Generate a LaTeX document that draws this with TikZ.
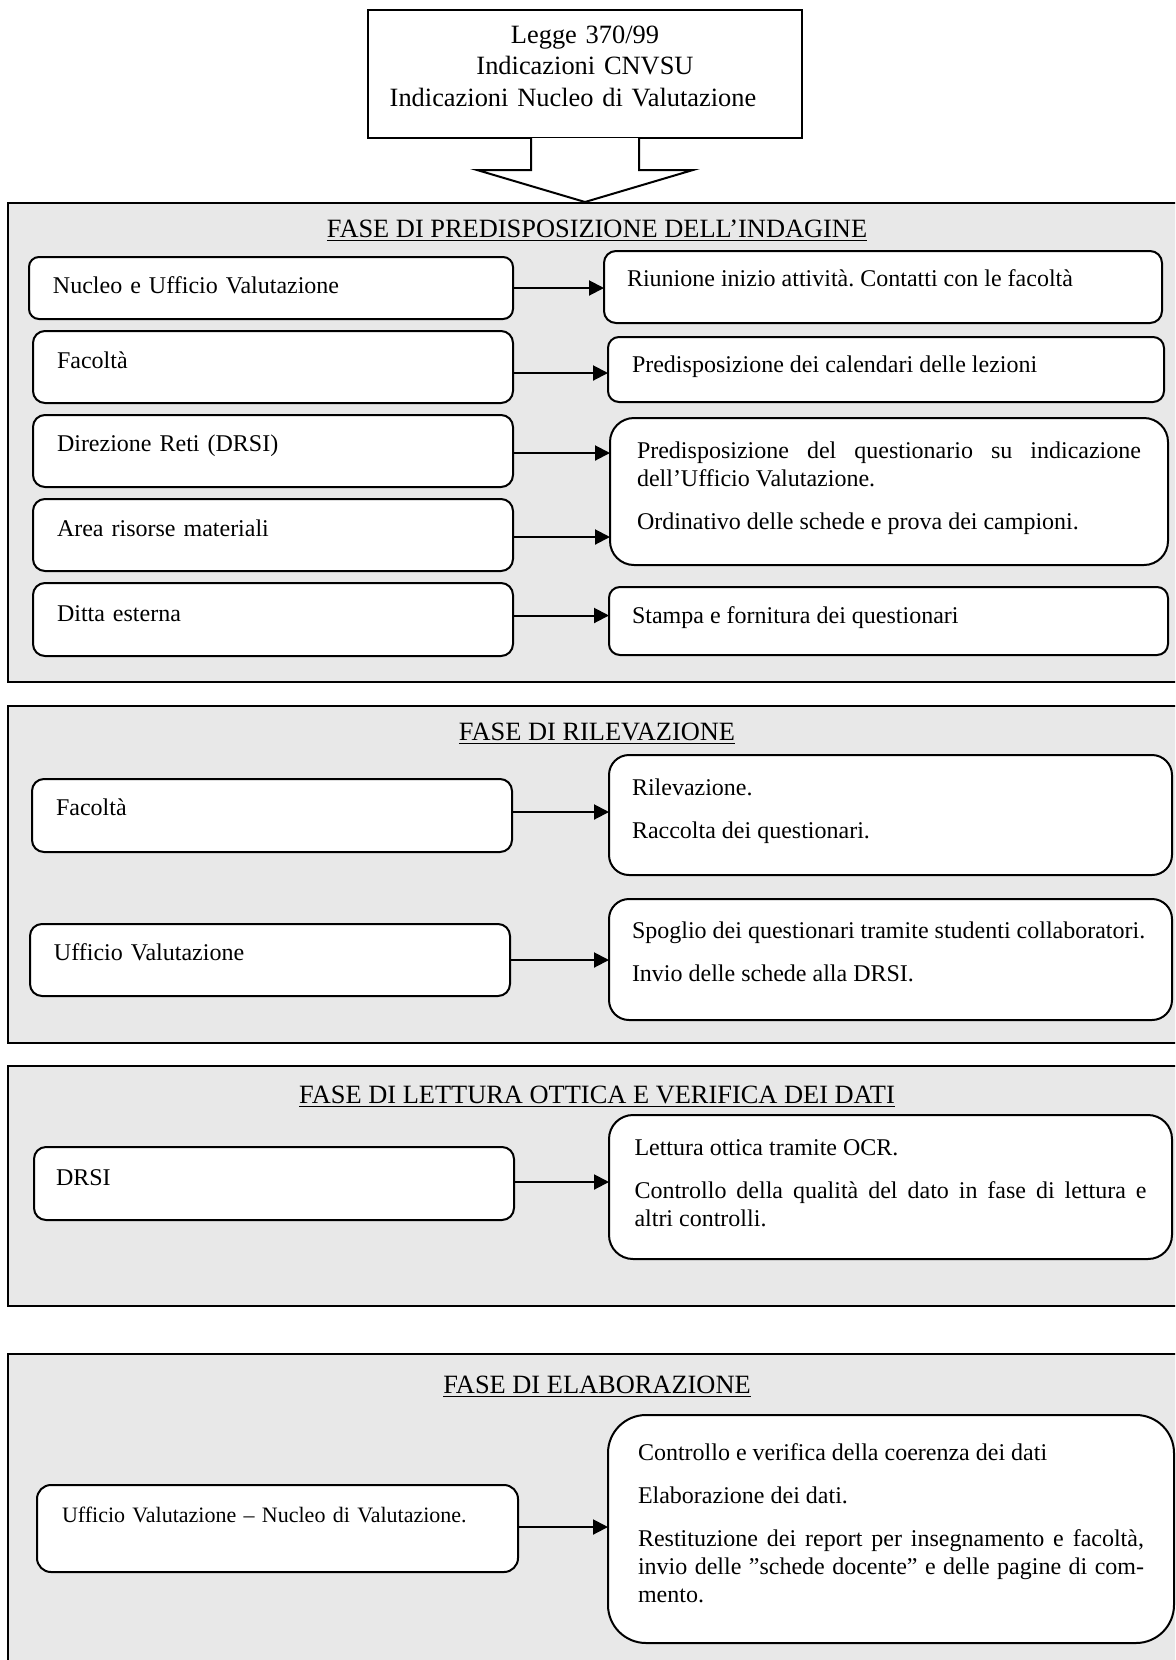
\documentclass[tikz,border=0pt]{standalone}
\usepackage{fontspec}
\setmainfont{Liberation Serif}
\usetikzlibrary{arrows.meta,calc}
\definecolor{panelgray}{RGB}{232,232,232}
\frenchspacing

\begin{document}
\begin{tikzpicture}[x=0.5pt,y=-0.5pt,
    fase/.style={draw,line width=1pt,fill=panelgray},
    titolo/.style={anchor=base,inner sep=0pt,font=\fontsize{13.2pt}{16pt}\selectfont},
    ente/.style={draw,line width=1pt,fill=white,anchor=north west,outer sep=0pt,
        inner ysep=0pt,inner xsep=12pt,text width=216pt,align=left,
        text height=18.5pt,text depth=17.5pt,rounded corners=6pt,
        font=\fontsize{12pt}{14pt}\selectfont},
    attivita/.style={ente,align=justify},
    flow/.style={line width=1pt,-{Triangle[length=7.5pt,width=7.5pt]}}]

    \useasboundingbox (0,0) rectangle (1175,1660);
    \clip (0,0) rectangle (1175,1660);
    \fill[white] (0,0) rectangle (1175,1660);

    \foreach \t/\b in {203/682,706/1043,1066/1306,1354/1700}
        \draw[fase] (8,\t) rectangle (1190,\b);

    \node[draw,line width=1pt,fill=white,anchor=north west,outer sep=0pt,inner xsep=10pt,
        inner ysep=0pt,text width=197pt,align=center,text height=16.5pt,text depth=47.5pt,
        font=\fontsize{13.2pt}{15.75pt}\selectfont] (legge) at (368,10)
        {Legge 370/99\\Indicazioni CNVSU\\\hspace*{-12pt}Indicazioni Nucleo di Valutazione};
    \draw[line width=1pt,fill=white] ($(legge.south)+(-54,0)$) -- ++(0,32) -- ++(-54,0)
        -- ($(legge.south)+(0,64)$) -- ++(108,-32) -- ++(-54,0) -- ++(0,-32);

    \node[titolo] (titolo1) at (597,237) {\underline{FASE DI PREDISPOSIZIONE DELL’INDAGINE}};
    \node[titolo] (titolo2) at (597,740) {\underline{FASE DI RILEVAZIONE}};
    \node[titolo] (titolo3) at (597,1103) {\underline{FASE DI LETTURA OTTICA E VERIFICA DEI DATI}};
    \node[titolo] (titolo4) at (597,1393) {\underline{FASE DI ELABORAZIONE}};

    \node[ente,text width=218pt,text height=18pt,text depth=13pt,rounded corners=5pt] (nucleo) at (29,257) {Nucleo e Ufficio Valutazione};
    \node[ente] (fac1) at (33,331) {Facoltà};
    \node[ente,text height=18pt,text depth=18pt] (direz) at (33,415) {Direzione Reti (DRSI)};
    \node[ente] (area) at (33,499) {Area risorse materiali};
    \node[ente,text height=19pt] (ditta) at (33,583) {Ditta esterna};

    \node[attivita,inner xsep=11.5pt,text width=256pt,text height=17.5pt,text depth=18.5pt] (riunione) at (604,251)
        {Riunione inizio attività. Contatti con le facoltà};
    \node[attivita,text width=254pt,text height=17.5pt,text depth=15pt,rounded corners=5.5pt] (calend) at (608,337)
        {Predisposizione dei calendari delle lezioni};
    \node[attivita,inner xsep=13.5pt,text width=252pt,text height=20pt,text depth=53.5pt,rounded corners=12pt] (quest) at (610,418)
        {Predisposizione del questionario su indicazione\linebreak dell’Ufficio Valutazione.\\[7.5pt]Ordinativo delle schede e prova dei campioni.};
    \node[attivita,inner xsep=11.5pt,text width=256.5pt,text height=18pt,text depth=16pt,rounded corners=5.5pt] (stampa) at (609,587)
        {Stampa e fornitura dei questionari};

    \node[ente,text height=18pt,text depth=18.5pt] (fac2) at (32,779) {Facoltà};
    \node[ente,text height=18pt,text depth=18pt] (uffval) at (30,924) {Ufficio Valutazione};
    \node[attivita,inner xsep=11.5pt,text width=258.5pt,text height=20pt,text depth=40pt,rounded corners=10pt] (rilev) at (609,755)
        {Rilevazione.\\[7.5pt]Raccolta dei questionari.};
    \node[attivita,inner xsep=11.5pt,text width=258.5pt,text height=19.5pt,text depth=41pt,rounded corners=10pt] (spoglio) at (609,899)
        {Spoglio dei questionari tramite studenti collaboratori.\\[7.5pt]Invio delle schede alla DRSI.};

    \node[ente,inner xsep=11pt,text width=218pt,text height=19pt,text depth=17.5pt] (drsi) at (34,1147) {DRSI};
    \node[attivita,inner xsep=12.75pt,text width=256pt,text height=20pt,text depth=52pt,rounded corners=12pt] (lettura) at (609,1115)
        {Lettura ottica tramite OCR.\\[7.5pt]Controllo della qualità del dato in fase di lettura e\linebreak altri controlli.};

    \node[ente,inner xsep=12.5pt,text width=215.5pt,text height=18.5pt,text depth=25pt,rounded corners=7pt,
        font=\fontsize{11pt}{13pt}\selectfont] (uffnucleo) at (37,1485) {Ufficio Valutazione – Nucleo di Valutazione.};
    \node[attivita,inner xsep=15pt,text width=253pt,text height=22.5pt,text depth=91.5pt,rounded corners=19pt] (elab) at (608,1415)
        {Controllo e verifica della coerenza dei dati\\[7.5pt]Elaborazione dei dati.\\[7.5pt]Restituzione dei report per insegnamento e facoltà,\linebreak invio delle ”schede docente” e delle pagine di com-\linebreak mento.};

    \foreach \a/\b/\s in {nucleo/riunione/0,fac1/calend/-3,direz/quest/-1,area/quest/-1,ditta/stampa/2,
        fac2/rilev/1.75,uffval/spoglio/0,drsi/lettura/0.75,uffnucleo/elab/0.75}
        \draw[flow] ([yshift=\s pt]\a.east) coordinate (s) -- (s -| \b.west);
\end{tikzpicture}
\end{document}
